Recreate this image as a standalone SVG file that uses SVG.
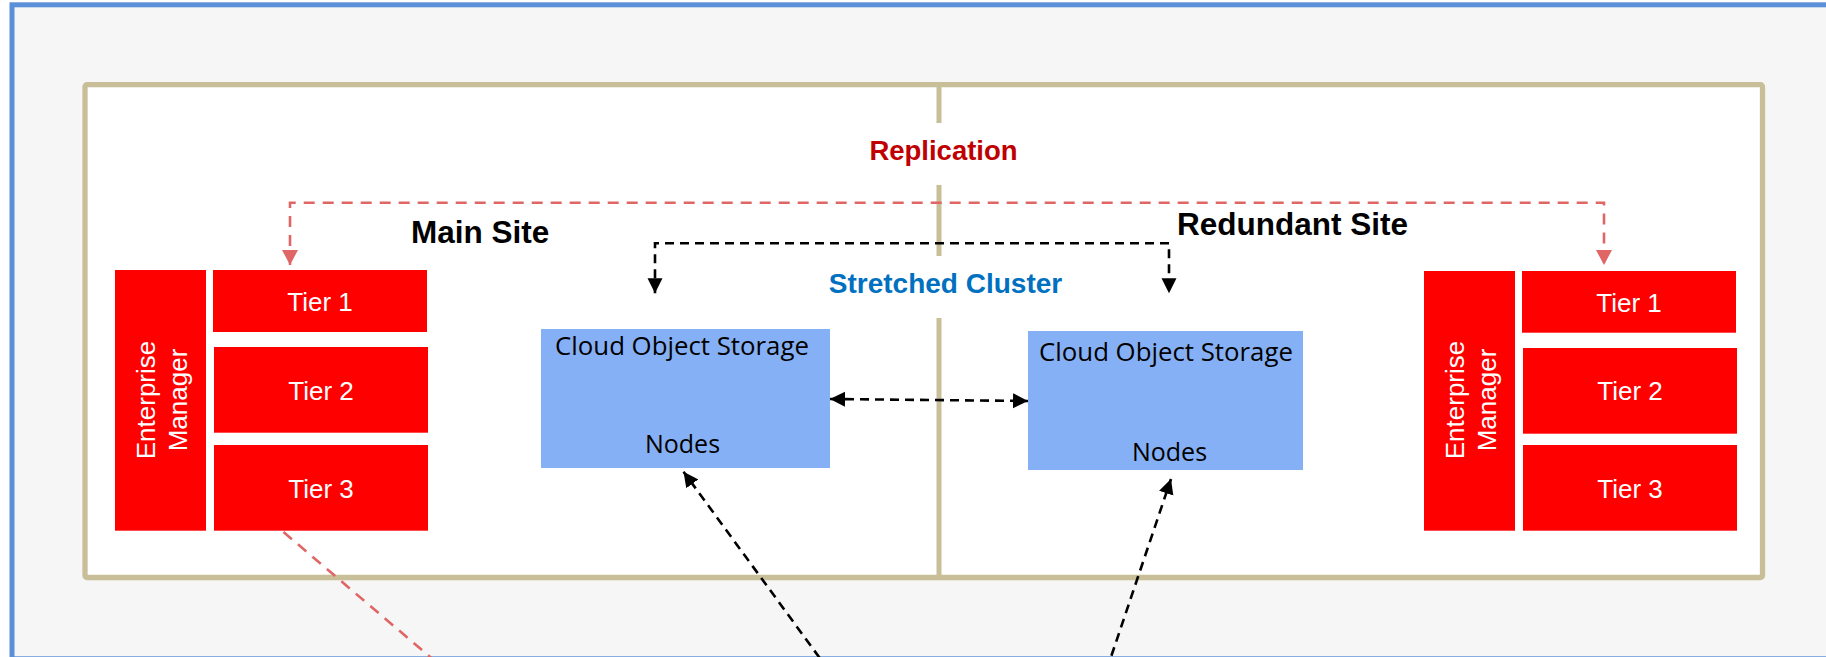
<svg xmlns="http://www.w3.org/2000/svg" width="1826" height="657" viewBox="0 0 1826 657">
<style>
.frame{fill:#f6f6f6;stroke:#5b8fd8;stroke-width:5}
.site{fill:#ffffff;stroke:#c8bf98;stroke-width:5.3}
.div{stroke:#c8bf98;stroke-width:5;fill:none}
.red{fill:#ff0000}
.blue{fill:#86b0f5}
.wt{font-family:"Liberation Sans",Arial,sans-serif;font-size:26px;fill:#ffffff;text-anchor:middle}
.bt{font-family:"Open Sans","Liberation Sans",sans-serif;font-size:25px;fill:#000000;text-anchor:middle}
.bt2{font-family:"Open Sans","Liberation Sans",sans-serif;font-size:25.8px;fill:#000000;text-anchor:middle}
.h{font-family:"Liberation Sans",Arial,sans-serif;font-weight:bold;font-size:31.5px;fill:#000000}
.rep{stroke:#e06666;stroke-width:2.6;fill:none;stroke-dasharray:11 8}
.blk{stroke:#000000;stroke-width:2.6;fill:none;stroke-dasharray:9 6}
</style>
<defs>
<marker id="ar" markerUnits="userSpaceOnUse" markerWidth="16" markerHeight="17" refX="15" refY="8" orient="auto-start-reverse">
<path d="M0,0 L15,8 L0,16 z" fill="#e06666"/>
</marker>
<marker id="ab" markerUnits="userSpaceOnUse" markerWidth="16" markerHeight="16" refX="15" refY="7.5" orient="auto-start-reverse">
<path d="M0,0 L15,7.5 L0,15 z" fill="#000000"/>
</marker>
</defs>
<rect x="0" y="0" width="1826" height="657" fill="#ffffff"/>
<rect class="frame" x="12" y="4.8" width="1840" height="654"/>
<rect class="site" x="85" y="84.7" width="1677.5" height="492.8" rx="2"/>
<g id="divider">
<line class="div" x1="939" y1="87" x2="939" y2="123"/>
<line class="div" x1="939" y1="185" x2="939" y2="256"/>
<line class="div" x1="939" y1="318" x2="939" y2="576"/>
</g>
<g id="labels">
<text x="943.5" y="160" font-family="Liberation Sans, Arial, sans-serif" font-weight="bold" font-size="27.5" fill="#c00000" text-anchor="middle">Replication</text>
<text class="h" x="411" y="243">Main Site</text>
<text class="h" x="1177" y="235">Redundant Site</text>
<text x="945.5" y="293" font-family="Liberation Sans, Arial, sans-serif" font-weight="bold" font-size="28" fill="#0070c0" text-anchor="middle">Stretched Cluster</text>
</g>
<g id="main-em">
<rect class="red" x="115" y="270" width="91" height="260.7"/>
<text class="wt" transform="translate(155,400) rotate(-90)">Enterprise</text>
<text class="wt" transform="translate(187,400) rotate(-90)">Manager</text>
</g>
<g id="main-tier1">
<rect class="red" x="213" y="270" width="214" height="62"/>
<text class="wt" x="320" y="311">Tier 1</text>
</g>
<g id="main-tier2">
<rect class="red" x="214" y="347" width="214" height="85.7"/>
<text class="wt" x="321" y="399.5">Tier 2</text>
</g>
<g id="main-tier3">
<rect class="red" x="214" y="445" width="214" height="85.7"/>
<text class="wt" x="321" y="497.5">Tier 3</text>
</g>
<g id="red-em">
<rect class="red" x="1424" y="271" width="91" height="259.7"/>
<text class="wt" transform="translate(1464,400) rotate(-90)">Enterprise</text>
<text class="wt" transform="translate(1496,400) rotate(-90)">Manager</text>
</g>
<g id="red-tier1">
<rect class="red" x="1522" y="271" width="214" height="61.7"/>
<text class="wt" x="1629" y="311.5">Tier 1</text>
</g>
<g id="red-tier2">
<rect class="red" x="1523" y="348" width="214" height="85.7"/>
<text class="wt" x="1630" y="400">Tier 2</text>
</g>
<g id="red-tier3">
<rect class="red" x="1523" y="445" width="214" height="85.7"/>
<text class="wt" x="1630" y="497.5">Tier 3</text>
</g>
<g id="main-storage">
<rect class="blue" x="541" y="329" width="289" height="139"/>
<text class="bt2" x="682" y="355">Cloud Object Storage</text>
<text class="bt" x="682.5" y="452.7">Nodes</text>
</g>
<g id="red-storage">
<rect class="blue" x="1028" y="331" width="275" height="139"/>
<text class="bt2" x="1166" y="361">Cloud Object Storage</text>
<text class="bt" x="1169.5" y="460.7">Nodes</text>
</g>
<g id="connectors">
<path class="rep" d="M290,265 L290,202.7 L1604,202.7 L1604,265" marker-start="url(#ar)" marker-end="url(#ar)"/>
<path class="blk" d="M655,293.3 L655,243.3 L1169,243.3 L1169,293.3" marker-start="url(#ab)" marker-end="url(#ab)"/>
<path class="blk" d="M830,399 L1028,401" marker-start="url(#ab)" marker-end="url(#ab)"/>
<path class="blk" d="M828.5,670 L683.5,471.7" marker-end="url(#ab)"/>
<path class="blk" d="M1106.6,670 L1171,479" marker-end="url(#ab)"/>
<path class="rep" d="M283.5,532 L436,662"/>
</g>
</svg>
